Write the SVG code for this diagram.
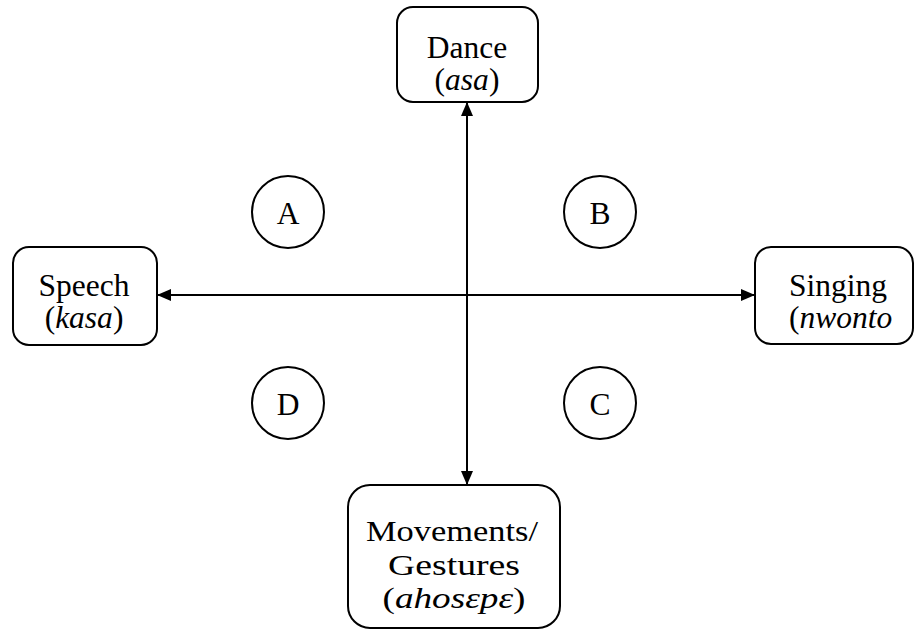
<svg xmlns="http://www.w3.org/2000/svg" width="914" height="631" viewBox="0 0 914 631">
<style>
.box{fill:#fff;stroke:#000;stroke-width:2}
.circ{fill:#fff;stroke:#000;stroke-width:2}
text{font-family:"Liberation Serif","Times New Roman",serif;font-size:31.5px;fill:#000}
.big{font-size:30px}
.m{text-anchor:middle}
.i{font-style:italic}
.conn{stroke:#000;stroke-width:2;fill:none}
</style>
<defs>
<marker id="ah" viewBox="0 0 14 12" refX="14" refY="6" markerWidth="14" markerHeight="12" markerUnits="userSpaceOnUse" orient="auto-start-reverse">
<path d="M0,0 L14,6 L0,12 Z" fill="#000"/>
</marker>
</defs>
<g id="connectors">
<line class="conn" x1="157" y1="295" x2="755" y2="295" marker-start="url(#ah)" marker-end="url(#ah)"/>
<line class="conn" x1="467" y1="102" x2="467" y2="485" marker-start="url(#ah)" marker-end="url(#ah)"/>
</g>
<g id="dance">
<rect class="box" x="397" y="7" width="141" height="95" rx="16"/>
<text class="m" x="467" y="58">Dance</text>
<text class="m" x="467" y="90">(<tspan class="i">asa</tspan>)</text>
</g>
<g id="speech">
<rect class="box" x="13" y="247" width="144" height="98" rx="16"/>
<text class="m" x="84" y="296">Speech</text>
<text class="m" x="84" y="328">(<tspan class="i">kasa</tspan>)</text>
</g>
<g id="singing">
<rect class="box" x="755" y="247" width="158" height="97" rx="16"/>
<text x="789" y="296">Singing</text>
<text x="789" y="328">(<tspan class="i">nwonto</tspan></text>
</g>
<g id="movements">
<rect class="box" x="348" y="485" width="212" height="143" rx="22"/>
<text class="m big" x="452" y="541" textLength="172" lengthAdjust="spacingAndGlyphs">Movements/</text>
<text class="m big" x="454" y="575" textLength="132" lengthAdjust="spacingAndGlyphs">Gestures</text>
<text class="m big" x="454" y="608" textLength="143" lengthAdjust="spacingAndGlyphs">(<tspan class="i">ahosεpε</tspan>)</text>
</g>
<g id="circle-a">
<circle class="circ" cx="288" cy="212" r="36"/>
<text class="m" x="288" y="224">A</text>
</g>
<g id="circle-b">
<circle class="circ" cx="600" cy="212" r="36"/>
<text class="m" x="600" y="224">B</text>
</g>
<g id="circle-d">
<circle class="circ" cx="288" cy="403" r="36"/>
<text class="m" x="288" y="415">D</text>
</g>
<g id="circle-c">
<circle class="circ" cx="600" cy="403" r="36"/>
<text class="m" x="600" y="415">C</text>
</g>
</svg>
